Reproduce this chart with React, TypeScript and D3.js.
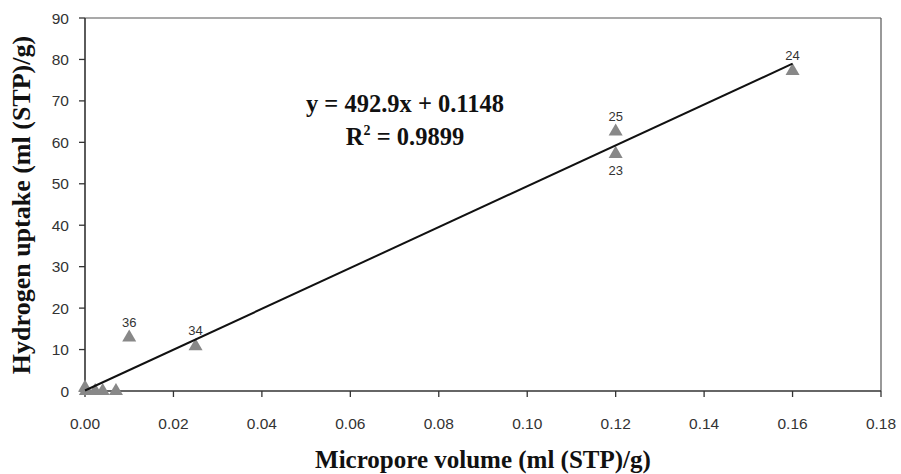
import React from "react";
import * as d3 from "d3";

const xTicks = [0, 0.02, 0.04, 0.06, 0.08, 0.1, 0.12, 0.14, 0.16, 0.18];
const yTicks = [0, 10, 20, 30, 40, 50, 60, 70, 80, 90];
const xValues = [0.0, 0.0002, 0.0023, 0.004, 0.007, 0.01, 0.025, 0.12, 0.12, 0.16];
const yValues = [0.8, 0.0, 0.0, 0.0, 0.0, 12.9, 10.8, 62.6, 57.2, 77.2];
const labels = ["", "", "", "", "", "36", "34", "25", "23", "24"];
const labelBelow = [false, false, false, false, false, false, false, false, true, false];
const slope = 492.9;
const intercept = 0.1148;
const fitRange = [0, 0.16];

export default function App() {
  const W = 901, H = 474;
  const left = 85, right = 881, top = 18, bottom = 391;
  const x = d3.scaleLinear().domain([0, 0.18]).range([left, right]);
  const y = d3.scaleLinear().domain([0, 90]).range([bottom, top]);
  const tri = d3.symbol().type(d3.symbolTriangle).size(85);
  const line = d3.line<number>().x((d) => x(d)).y((d) => y(slope * d + intercept));
  const sans = "Liberation Sans, Arial";
  const serif = "Liberation Serif, Times New Roman";
  return (
    <svg width={W} height={H} style={{ position: "absolute", left: 0, top: 0, background: "#fff" }}>
      <rect x={0} y={0} width={W} height={H} fill="#fff" />
      <line x1={left} x2={right} y1={top} y2={top} stroke="#555" strokeWidth={1.2} />
      <line x1={right} x2={right} y1={top} y2={bottom} stroke="#555" strokeWidth={1.2} />
      <line x1={left} x2={left} y1={top} y2={bottom} stroke="#333" strokeWidth={1.6} />
      <line x1={left} x2={right} y1={bottom} y2={bottom} stroke="#333" strokeWidth={1.6} />
      {yTicks.map((t) => (
        <g key={"y" + t}>
          <line x1={left - 6} x2={left} y1={y(t)} y2={y(t)} stroke="#333" strokeWidth={1.3} />
          <text x={left - 16} y={y(t) + 5.5} textAnchor="end" fontFamily={sans} fontSize={15.5} fill="#333">{t}</text>
        </g>
      ))}
      {xTicks.map((t) => (
        <g key={"x" + t}>
          <line x1={x(t)} x2={x(t)} y1={bottom} y2={bottom + 6} stroke="#333" strokeWidth={1.3} />
          <text x={x(t)} y={bottom + 38} textAnchor="middle" fontFamily={sans} fontSize={15.5} fill="#333">{t.toFixed(2)}</text>
        </g>
      ))}
      {xValues.map((v, i) => (
        <path key={"p" + i} d={tri() as string} transform={`translate(${x(v)},${y(yValues[i])})`} fill="#888" />
      ))}
      <path d={line(fitRange) as string} stroke="#111" strokeWidth={2} fill="none" />
      {xValues.map((v, i) =>
        labels[i] ? (
          <text key={"l" + i} x={x(v)} y={labelBelow[i] ? y(yValues[i]) + 21 : y(yValues[i]) - 11} textAnchor="middle" fontFamily={sans} fontSize={13} fill="#333">{labels[i]}</text>
        ) : null
      )}
      <text x={405} y={112} textAnchor="middle" fontFamily={serif} fontWeight="bold" fontSize={24.5} fill="#111">y = 492.9x + 0.1148</text>
      <text x={405} y={145} textAnchor="middle" fontFamily={serif} fontWeight="bold" fontSize={24.5} fill="#111">
        R<tspan dy={-10} fontSize={14}>2</tspan><tspan dy={10}> = 0.9899</tspan>
      </text>
      <text x={483} y={468} textAnchor="middle" fontFamily={serif} fontWeight="bold" fontSize={25} fill="#111">Micropore volume (ml (STP)/g)</text>
      <text transform={`translate(30,205) rotate(-90)`} textAnchor="middle" fontFamily={serif} fontWeight="bold" fontSize={26} fill="#111">Hydrogen uptake (ml (STP)/g)</text>
    </svg>
  );
}
